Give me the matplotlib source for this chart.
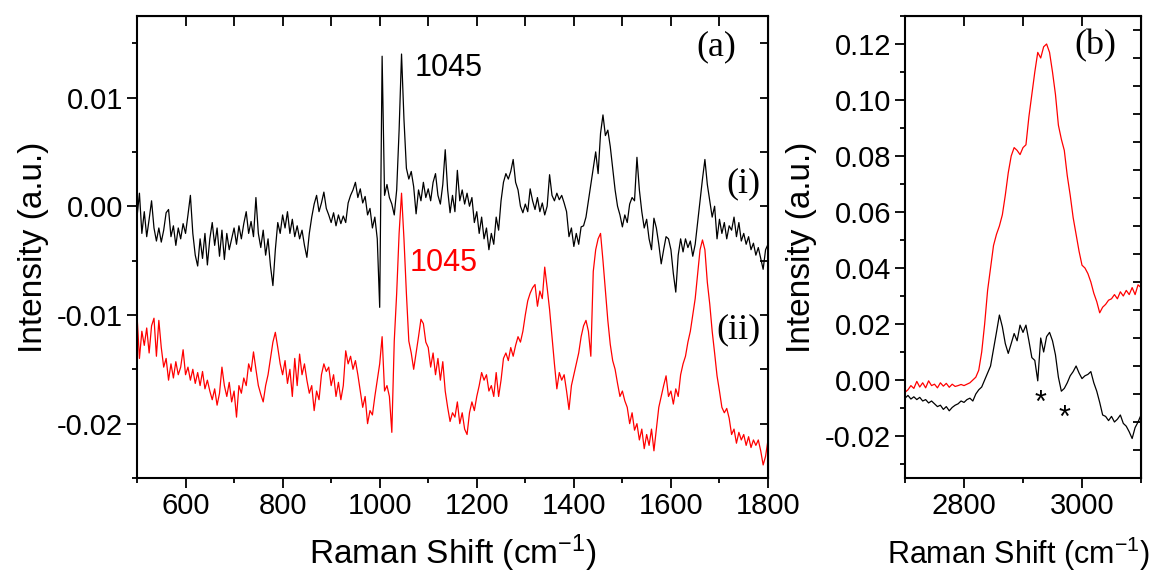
import numpy as np
import matplotlib
matplotlib.use("Agg")
import matplotlib.pyplot as plt

plt.rcParams['font.family'] = ['Liberation Sans', 'DejaVu Sans']
plt.rcParams['mathtext.fontset'] = 'custom'
plt.rcParams['mathtext.rm'] = 'Liberation Sans'
plt.rcParams['mathtext.it'] = 'Liberation Sans:italic'
plt.rcParams['mathtext.bf'] = 'Liberation Sans:bold'

# panel (a): 500-1800 cm-1, step 5, intensities in units of 1e-3
shift_a = np.arange(500, 1801, 5)
spec_i = [
    -1.0, 1.2, -2.5, -0.5, -2.8, -1.2, 0.5, -2.0, -3.2, -2.0,
    -3.3, -2.2, -0.6, -0.3, -2.8, -1.8, -3.6, -2.0, -3.0, -1.6,
    -2.5, -0.8, 1.0, -2.5, -4.5, -5.5, -3.0, -4.8, -2.5, -5.4,
    -3.0, -1.5, -3.6, -2.0, -4.6, -2.2, -4.9, -2.5, -4.0, -3.0,
    -2.0, -3.5, -1.8, -3.0, -1.6, -0.5, -2.5, -1.4, -2.8, 0.8,
    -2.5, -3.8, -2.2, -4.5, -3.0, -5.5, -7.3, -4.0, -1.5, -2.5,
    -0.8, -2.0, -0.5, -2.5, -1.2, -2.8, -1.8, -3.0, -2.2, -3.6,
    -4.7, -2.5, -1.0, 0.2, 1.0, -0.5, 0.3, 1.3, -0.2, -0.8,
    -1.5, -0.6, -1.8, -0.8, -1.6, -0.9, -1.5, 0.3, 1.0, 1.5,
    2.2, 0.8, 1.6, 0.3, 0.9, -0.8, -0.2, -2.0, -1.0, -3.0,
    -9.3, 13.8, 1.0, 2.0, 0.8, 0.2, -0.8, 1.5, 7.0, 14.0,
    8.0, 3.5, 2.5, 3.2, 1.8, -0.7, 1.5, 0.5, 2.2, 0.8,
    1.6, 0.5, 2.2, 3.0, 1.0, 0.2, 2.0, 5.2, 1.5, -0.6,
    1.0, -0.5, 3.3, 0.5, 1.5, 0.2, 1.2, 0.0, 0.8, -1.5,
    -0.5, -2.5, -1.0, -3.0, -2.0, -4.0, -2.5, -3.5, -1.0, -2.2,
    0.5, 2.2, 3.0, 2.5, 3.2, 4.3, 2.2, 1.5, 0.0, -0.6,
    0.2, -0.5, 1.6, 0.5, -0.3, 0.8, -0.5, 0.3, -0.8, 0.0,
    2.9, 1.0, 0.5, 1.2, 0.6, 1.0, 0.3, -0.5, -2.8, -2.0,
    -3.7, -2.5, -3.5, -1.9, -1.8, -1.0, 0.5, 2.0, 3.5, 5.0,
    3.0, 6.7, 8.4, 6.5, 7.0, 5.5, 3.5, 1.5, 0.0, -0.8,
    -1.9, -0.8, -1.5, 0.2, 0.8, 0.5, 4.5, 1.5, -0.5, -2.0,
    -1.2, -3.0, -4.0, -1.1, -2.0, -3.5, -5.3, -4.0, -2.8, -3.0,
    -4.0, -6.2, -7.9, -4.5, -3.0, -4.2, -3.0, -3.8, -3.2, -4.6,
    -3.5, -1.5, 0.5, 2.5, 4.3, 2.0, 0.5, -1.0, 0.0, -3.0,
    -1.2, -2.5, -1.5, -3.0, -1.8, -2.2, -1.0, -2.8, -1.5, -3.2,
    -2.5, -3.5, -2.8, -4.0, -3.4, -4.5, -3.8, -4.8, -5.8, -4.0, -3.5,
]
spec_ii = [
    -10.0, -14.0, -11.5, -12.8, -11.2, -13.5, -11.0, -10.3, -13.8, -10.5,
    -13.0, -14.8, -14.0, -16.0, -14.5, -15.8, -14.3, -15.5, -14.8, -13.2,
    -15.5, -14.8, -16.0, -15.0, -16.3, -15.3, -16.5, -15.2, -16.8, -16.0,
    -17.0, -17.8, -16.8, -18.3, -17.2, -14.8, -16.5, -17.5, -16.2, -18.0,
    -17.0, -19.4, -16.5, -17.2, -15.8, -16.5, -14.5, -15.2, -13.4, -15.0,
    -16.5, -17.3, -18.0, -16.5, -15.5, -14.0, -12.5, -11.6, -13.0, -14.5,
    -15.5, -14.2, -16.3, -15.0, -17.5, -14.0, -16.5, -13.6, -15.5, -14.5,
    -16.0, -17.2, -16.5, -18.8, -17.0, -17.8, -15.5, -14.5, -15.2, -14.8,
    -16.5, -15.5, -17.5, -16.2, -17.8, -16.5, -13.3, -14.5, -13.8, -15.0,
    -14.2, -15.5, -17.0, -18.5, -17.5, -20.0, -18.8, -19.2, -17.5, -16.0,
    -14.5, -12.0, -17.0, -16.5, -17.5, -20.8, -12.4, -8.0, -2.5, 1.2,
    -3.0, -8.0, -12.4, -13.5, -15.0, -13.5, -12.0, -10.4, -10.8, -12.5,
    -13.0, -14.8, -13.5, -15.5, -14.0, -16.0, -14.3, -17.0, -18.5, -19.8,
    -19.0, -19.4, -18.0, -20.0, -19.0, -20.5, -21.0, -19.0, -18.0, -18.8,
    -17.5, -16.5, -15.3, -16.0, -15.5, -17.0, -16.5, -17.5, -15.3, -17.5,
    -16.0, -14.0, -13.5, -14.2, -13.0, -13.8, -12.8, -12.0, -12.5, -11.5,
    -10.0, -8.7, -8.0, -7.5, -7.2, -9.2, -7.8, -8.5, -5.6, -7.5,
    -9.5, -12.0, -14.5, -16.8, -15.3, -16.0, -15.5, -17.0, -18.7, -16.5,
    -15.5, -14.5, -13.5, -12.0, -11.0, -10.5, -11.5, -13.8, -6.0, -4.0,
    -3.0, -2.5, -5.0, -7.8, -10.5, -12.7, -14.2, -15.0, -16.3, -17.5,
    -17.0, -17.9, -18.5, -20.0, -19.0, -20.6, -20.0, -21.5, -20.5, -22.3,
    -21.0, -22.0, -20.5, -22.5, -20.5, -18.5, -17.5, -16.5, -15.6, -17.5,
    -17.0, -18.2, -16.8, -17.5, -15.5, -14.5, -13.8, -12.5, -11.5, -10.0,
    -8.5, -6.2, -4.0, -3.1, -4.0, -7.0, -9.0, -11.5, -13.5, -15.6,
    -17.0, -18.5, -19.0, -18.6, -19.5, -21.0, -20.5, -21.8, -20.8, -21.5,
    -21.0, -22.0, -21.2, -22.2, -21.5, -22.0, -21.5, -22.5, -23.8, -23.0, -21.5,
]

# panel (b): 2700-3100 cm-1, step 5, intensities in units of 1e-3
shift_b = np.arange(2700, 3101, 5)
ch_red = [
    -4.4, -3.5, -2.0, -3.0, -0.5, -2.5, -1.0, -2.8, -0.3, -2.0,
    -1.5, -2.8, -1.0, -2.2, -1.2, -2.6, -1.5, -2.3, -2.0, -1.6,
    -2.0, -1.5, -1.0, 0.0, 1.0, 3.5, 10.0, 20.0, 32.0, 40.0,
    48.0, 52.0, 55.0, 59.0, 66.0, 74.0, 80.0, 83.0, 82.0, 80.5,
    83.0, 84.0, 94.0, 102.0, 110.0, 117.0, 115.0, 119.0, 120.0, 117.0,
    110.0, 102.0, 91.0, 86.0, 82.0, 73.0, 66.0, 58.0, 52.0, 46.0,
    41.0, 40.0, 38.0, 35.0, 31.0, 28.0, 24.0, 26.0, 27.0, 28.5,
    29.0, 30.5, 29.0, 31.5, 30.0, 32.0, 30.5, 33.0, 30.5, 34.0, 33.0,
]
ch_black = [
    -6.5, -5.5, -6.8, -6.0, -7.0, -6.2, -7.5, -7.0, -8.2, -7.5,
    -8.5, -9.5, -9.0, -10.5, -9.5, -11.0, -9.8, -9.0, -8.5, -7.5,
    -8.0, -7.0, -6.5, -7.5, -5.0, -3.5, -2.5, 0.0, 2.5, 5.0,
    11.0, 17.0, 23.2, 19.0, 13.0, 9.5, 13.0, 16.6, 14.0, 19.6,
    17.0, 19.6, 14.0, 8.0, 7.0, -0.3, 15.0, 10.0, 15.5, 17.0,
    14.0, 9.0, 1.0, -4.0, -3.0, -1.0, 1.5, 3.0, 5.0, 2.5,
    0.5, 1.5, 2.0, 3.0, -1.0, -4.0, -8.0, -12.5, -13.0, -14.5,
    -13.0, -15.0, -14.0, -12.5, -15.5, -16.5, -18.5, -20.9, -17.0, -15.0, -12.5,
]

fig = plt.figure(figsize=(11.56, 5.78), dpi=100)
ax1 = fig.add_axes([137 / 1156, 100 / 578, 631 / 1156, 462 / 578])
ax2 = fig.add_axes([905 / 1156, 100 / 578, 236 / 1156, 462 / 578])

ax1.plot(shift_a, np.array(spec_i) * 1e-3, color='black', lw=0.9)
ax1.plot(shift_a, np.array(spec_ii) * 1e-3, color='red', lw=0.9)
ax2.plot(shift_b, np.array(ch_red) * 1e-3, color='red', lw=0.9)
ax2.plot(shift_b, np.array(ch_black) * 1e-3, color='black', lw=0.9)

ax1.set_xlim(500, 1800)
ax1.set_ylim(-0.025, 0.0175)
ax1.set_xticks([600, 800, 1000, 1200, 1400, 1600, 1800])
ax1.set_xticks(np.arange(500, 1801, 100), minor=True)
ax1.set_yticks([-0.02, -0.01, 0.00, 0.01])
ax1.set_yticklabels(['-0.02', '-0.01', '0.00', '0.01'])
ax1.set_yticks(np.arange(-0.025, 0.0176, 0.005), minor=True)

ax2.set_xlim(2700, 3100)
ax2.set_ylim(-0.035, 0.13)
ax2.set_xticks([2800, 3000])
ax2.set_xticks(np.arange(2700, 3101, 100), minor=True)
ax2.set_yticks(np.arange(-0.02, 0.121, 0.02))
ax2.set_yticklabels(['-0.02', '0.00', '0.02', '0.04', '0.06', '0.08', '0.10', '0.12'])
ax2.set_yticks(np.arange(-0.03, 0.131, 0.01), minor=True)

for ax, top_step, right_step in [(ax1, 100, 0.005), (ax2, 100, 0.01)]:
    for sp in ax.spines.values():
        sp.set_linewidth(1.5)
    ax.tick_params(which='both', direction='out', top=False, right=False,
                   width=1.3, labelsize=21, pad=3)
    ax.tick_params(which='major', length=7)
    ax.tick_params(which='minor', length=3.5)
    lo, hi = ax.get_xlim()
    sx = ax.secondary_xaxis('top')
    sx.set_xticks(np.arange(lo, hi + 1, top_step))
    sx.tick_params(direction='in', length=7, width=1.3, labeltop=False)
    sx.xaxis.set_minor_locator(plt.NullLocator())
    ylo, yhi = ax.get_ylim()
    sy = ax.secondary_yaxis('right')
    sy.set_yticks(np.arange(ylo, yhi + 1e-9, right_step))
    sy.tick_params(direction='in', length=5.5, width=1.3, labelright=False)
    sy.yaxis.set_minor_locator(plt.NullLocator())
    ax.set_ylabel('Intensity (a.u.)', fontsize=24)

ax1.set_xlabel('Raman Shift (cm$^{-1}$)', fontsize=24)
ax2.set_xlabel('Raman Shift (cm$^{-1}$)', fontsize=22)
ax1.xaxis.set_label_coords(0.5, (478 - 533) / 462)
ax2.xaxis.set_label_coords((1018 - 905) / 236, (478 - 535) / 462)
ax1.yaxis.set_label_coords((49 - 137) / 631, 0.5)
ax2.yaxis.set_label_coords((817 - 905) / 236, 0.5)

serif = 'Liberation Serif'
ax1.text(1694, 0.01465, '(a)', family=serif, fontsize=26, ha='center', va='center')
ax1.text(1749, 0.0021, '(i)', family=serif, fontsize=26, ha='center', va='center')
ax1.text(1739, -0.0114, '(ii)', family=serif, fontsize=26, ha='center', va='center')
ax1.text(1071, 0.0127, '1045', fontsize=22, color='black', ha='left', va='center')
ax1.text(1061, -0.0052, '1045', fontsize=22, color='red', ha='left', va='center')
ax2.text(3022, 0.1193, '(b)', family=serif, fontsize=26, ha='center', va='center')
ax2.text(2929, -0.0114, '*', fontsize=22, ha='center', va='baseline')
ax2.text(2971, -0.0168, '*', fontsize=22, ha='center', va='baseline')

fig.savefig('out.png', dpi=100)
